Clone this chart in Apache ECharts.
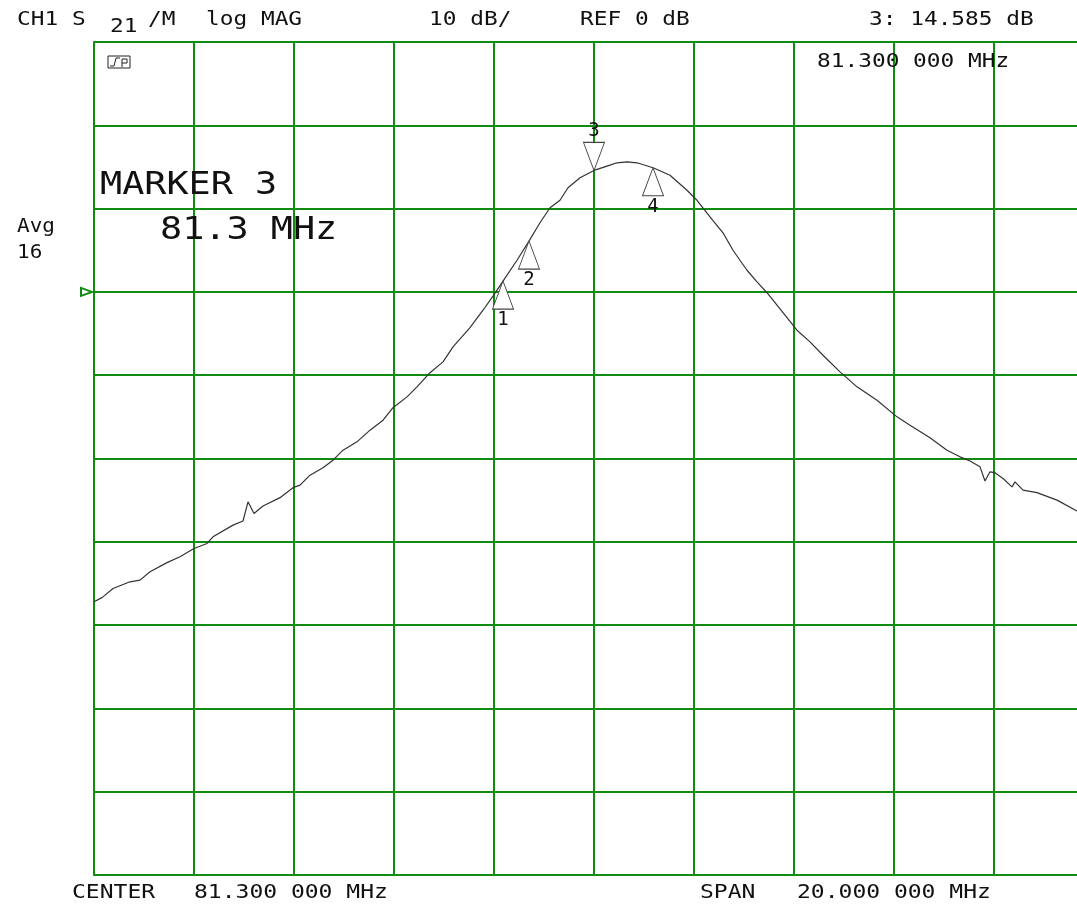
<!DOCTYPE html>
<html><head><meta charset="utf-8">
<script src="https://cdn.jsdelivr.net/npm/echarts@6/dist/echarts.min.js"></script>
<style>html,body{margin:0;padding:0;background:#fff;overflow:hidden;width:1077px;height:909px}#c{width:1100px;height:909px}</style>
</head><body><div id="c"></div>
<script>
// ---- data ----
const traceFreqMHz = [71.30,71.46,71.68,72.02,72.22,72.42,72.76,73.02,73.30,73.56,73.68,74.08,74.28,74.38,74.50,74.68,75.02,75.28,75.42,75.62,75.88,76.08,76.28,76.56,76.82,77.08,77.28,77.56,77.76,78.02,78.28,78.48,78.82,79.08,79.28,79.48,79.76,80.00,80.22,80.42,80.62,80.78,81.02,81.30,81.56,81.76,81.96,82.16,82.48,82.82,83.16,83.36,83.62,83.88,84.08,84.36,84.56,84.76,84.96,85.16,85.36,85.62,85.88,86.22,86.56,86.96,87.36,87.62,88.02,88.36,88.62,88.82,89.02,89.12,89.22,89.32,89.48,89.66,89.72,89.88,90.16,90.56,90.96,91.30];
const traceDb = [-37.2,-36.7,-35.6,-34.8,-34.6,-33.6,-32.5,-31.8,-30.8,-30.2,-29.4,-28.0,-27.5,-25.2,-26.6,-25.7,-24.7,-23.5,-23.2,-22.0,-21.1,-20.2,-19.0,-18.0,-16.6,-15.4,-13.9,-12.6,-11.4,-9.7,-8.4,-6.6,-4.3,-2.2,-0.5,1.3,3.8,6.1,8.3,10.1,11.0,12.5,13.7,14.585,15.1,15.5,15.6,15.5,14.9,14.0,12.2,11.0,9.0,7.1,5.0,2.6,1.2,-0.1,-1.6,-3.1,-4.6,-6.0,-7.6,-9.6,-11.4,-13.0,-15.0,-16.0,-17.5,-19.0,-19.8,-20.3,-21.0,-22.7,-21.6,-21.7,-22.4,-23.4,-22.8,-23.8,-24.1,-25.0,-26.3,-27.0];
const markerIds = ['1','2','3','4'];
const markerFreqMHz = [79.48, 80.00, 81.30, 82.48];
const markerDb = [1.3, 6.1, 14.585, 14.9];
const markerDown = [false, false, true, false];
const refLevelDb = 0;
const xMin = 71.3, xMax = 91.3, xStep = 2;
const yMin = -70, yMax = 30, yStep = 10;
const headerTexts = ['CH1 S', '21', '/M', 'log MAG', '10 dB/', 'REF 0 dB', '3: 14.585 dB'];
const markerFreqText = '81.300 000 MHz';
const markerBigTexts = ['MARKER 3', '81.3 MHz'];
const avgTexts = ['Avg', '16'];
const footerTexts = ['CENTER', '81.300 000 MHz', 'SPAN', '20.000 000 MHz'];

// ---- styles ----
const GREEN = '#108c10';
const MONO = 'DejaVu Sans Mono';
const chart = echarts.init(document.getElementById('c'), null, {renderer: 'canvas'});

function txt(text, x, y, size, sx) {
  return {type: 'text', x: x, y: y, scaleX: sx, z: 50,
    style: {text: text, font: size + 'px "' + MONO + '"', fill: '#111', align: 'left', verticalAlign: 'middle'}};
}

const graphics = [
  txt(headerTexts[0], 17, 20, 20, 1.14),
  txt(headerTexts[1], 110, 27, 20, 1.14),
  txt(headerTexts[2], 148, 20, 20, 1.14),
  txt(headerTexts[3], 206, 20, 20, 1.14),
  txt(headerTexts[4], 429, 20, 20, 1.14),
  txt(headerTexts[5], 580, 20, 20, 1.14),
  txt(headerTexts[6], 869, 20, 20, 1.14),
  txt(markerFreqText, 817, 62, 20, 1.14),
  txt(markerBigTexts[0], 100, 186, 32, 1.15),
  txt(markerBigTexts[1], 160, 231, 32, 1.15),
  txt(avgTexts[0], 17, 227, 20, 1.05),
  txt(avgTexts[1], 17, 253, 20, 1.05),
  txt(footerTexts[0], 72, 893, 20, 1.15),
  txt(footerTexts[1], 194, 893, 20, 1.15),
  txt(footerTexts[2], 700, 893, 20, 1.15),
  txt(footerTexts[3], 797, 893, 20, 1.15),
  // small status icon
  {type: 'rect', shape: {x: 108, y: 56, width: 22, height: 12}, style: {fill: 'none', stroke: '#222', lineWidth: 1}, z: 50},
  {type: 'polyline', shape: {points: [[110, 66], [114, 66], [116, 58], [120, 58]]}, style: {fill: 'none', stroke: '#222', lineWidth: 1}, z: 50},
  {type: 'polyline', shape: {points: [[122, 67], [122, 59], [127, 59], [127, 63], [122, 63]]}, style: {fill: 'none', stroke: '#222', lineWidth: 1}, z: 50}
];

const traceData = traceFreqMHz.map((f, i) => [f, traceDb[i]]);
const markerData = markerFreqMHz.map((f, i) => ({
  name: markerIds[i],
  value: [f, markerDb[i]],
  symbolRotate: markerDown[i] ? 180 : 0,
  symbolOffset: [0, markerDown[i] ? -14 : 14],
  label: {position: markerDown[i] ? 'top' : 'bottom'}
}));

chart.setOption({
  animation: false,
  backgroundColor: '#fff',
  grid: {left: 94, top: 42, width: 1000, height: 833, containLabel: false},
  xAxis: {
    type: 'value', min: xMin, max: xMax, interval: xStep,
    axisLine: {show: true, lineStyle: {color: GREEN, width: 2}},
    axisTick: {show: false}, axisLabel: {show: false},
    splitLine: {show: true, lineStyle: {color: GREEN, width: 2}}
  },
  yAxis: {
    type: 'value', min: yMin, max: yMax, interval: yStep,
    axisLine: {show: true, onZero: false, lineStyle: {color: GREEN, width: 2}},
    axisTick: {show: false}, axisLabel: {show: false},
    splitLine: {show: true, lineStyle: {color: GREEN, width: 2}}
  },
  graphic: graphics,
  series: [
    {type: 'line', data: traceData, showSymbol: false, symbol: 'none', smooth: false,
     lineStyle: {color: '#333', width: 1.2}, z: 3, silent: true},
    {type: 'scatter', data: markerData, symbol: 'triangle', symbolSize: [21, 28], z: 4,
     itemStyle: {color: '#fff', borderColor: '#444', borderWidth: 1, opacity: 1},
     label: {show: true, formatter: '{b}', distance: 1, color: '#111', fontFamily: MONO, fontSize: 19}}
  ]
});

// reference-level arrow on the left edge
const refY = chart.convertToPixel({yAxisIndex: 0}, refLevelDb);
const leftX = chart.convertToPixel({xAxisIndex: 0}, xMin);
chart.setOption({graphic: graphics.concat([{
  type: 'polygon', z: 50,
  shape: {points: [[leftX - 13, refY - 4], [leftX - 2, refY], [leftX - 13, refY + 4]]},
  style: {fill: '#fff', stroke: GREEN, lineWidth: 2}
}])});
</script></body></html>
